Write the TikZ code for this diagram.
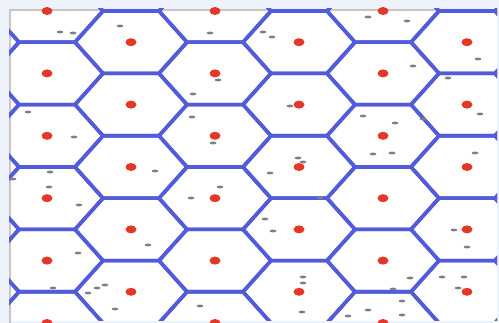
\documentclass[tikz,border=0pt]{standalone}
\definecolor{bgc}{RGB}{238,242,250}
\definecolor{hexc}{RGB}{82,92,218}
\definecolor{dotc}{RGB}{228,55,40}
\definecolor{dashc}{RGB}{125,125,140}
\definecolor{framec}{RGB}{205,195,198}
\begin{document}
\begin{tikzpicture}[x=1pt,y=-1pt,
  hexline/.style={draw=hexc,line width=3.6pt,line join=round},
  seed/.style={fill=dotc},
  speck/.style={fill=dashc}]
\useasboundingbox (0,0) rectangle (499,323);
\fill[bgc] (0,0) rectangle (499,323);
\fill[white] (10,10) rectangle (497,321);
\draw[framec,line width=1.6pt] (10,323) -- (10,10) -- (497,10);
\begin{scope}
\clip (9,9) rectangle (497,321);
\foreach \k in {-1,...,6}{
  \foreach \m in {-2,...,12}{
    \pgfmathtruncatemacro\hpar{mod(\k+\m+100,2)}
    \ifnum\hpar=0
      \pgfmathsetmacro\cx{47+84*\k}
      \pgfmathsetmacro\cy{11+31.2*\m}
      \draw[hexline] (\cx-56,\cy) -- (\cx-28,\cy-31.2) -- (\cx+28,\cy-31.2) -- (\cx+56,\cy) -- (\cx+28,\cy+31.2) -- (\cx-28,\cy+31.2) -- cycle;
    \fi
  }
}
\end{scope}
% specks
\foreach \sx/\sy in {60/32,73/33,120/26,210/33,218/80,193/94,28/112,192/117,74/137,213/143,
  368/17,407/21,263/32,272/37,478/59,413/66,448/78,290/106,363/116,395/123,480/114,423/119,373/154,392/153,475/153,298/158,
  50/172,13/179,49/187,79/205,155/171,220/187,191/198,148/245,78/253,53/288,88/293,97/288,105/285,115/309,200/306,
  270/173,303/162,265/219,273/231,320/198,454/230,467/247,303/277,303/283,302/312,410/278,442/277,464/277,458/288,393/289,402/301,368/310,348/316,402/315}{
  \fill[speck] (\sx,\sy) ellipse [x radius=3.5pt,y radius=1.4pt];
}
% seeds
\foreach \k in {0,...,5}{
  \foreach \m in {0,...,10}{
    \pgfmathtruncatemacro\hpar{mod(\k+\m+100,2)}
    \ifnum\hpar=0
      \pgfmathsetmacro\cx{47+84*\k}
      \pgfmathsetmacro\cy{11+31.2*\m}
      \fill[seed] (\cx,\cy) ellipse [x radius=5.5pt,y radius=4pt];
    \fi
  }
}
\end{tikzpicture}
\end{document}
